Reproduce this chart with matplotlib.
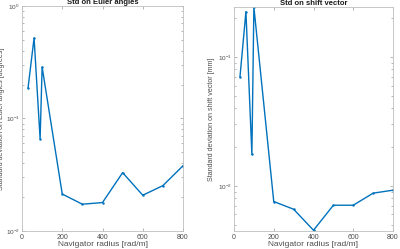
import matplotlib
matplotlib.use("Agg")
import matplotlib.pyplot as plt
from matplotlib.ticker import LogLocator, NullFormatter

radius = [30, 60, 90, 100, 200, 300, 400, 500, 600, 700, 800]
euler_std = [0.187, 0.52, 0.0657, 0.287, 0.0213, 0.0173, 0.0179, 0.033, 0.0208, 0.0253, 0.038]
shift_std = [0.0699, 0.2244, 0.0175, 0.244, 0.00755, 0.00658, 0.00452, 0.00707, 0.00707, 0.00877, 0.00925]
xticks = [0, 200, 400, 600, 800]

plt.rcParams['font.family'] = ['Liberation Sans', 'DejaVu Sans']
plt.rcParams['mathtext.fontset'] = 'custom'
plt.rcParams['mathtext.rm'] = 'Liberation Sans'
fig = plt.figure(figsize=(4, 2.49), dpi=100)
W, H = 400, 249
ax1 = fig.add_axes([22 / W, 1 - 231 / H, 161 / W, 225 / H])
ax2 = fig.add_axes([234 / W, 1 - 231 / H, 159 / W, 224 / H])

line_color = '#0072BD'
axc = '#4d4d4d'
for ax, y, title, ylabel, ylim, lx in [
    (ax1, euler_std, 'Std on Euler angles', 'Standard deviation on Euler angles [degrees]', (1e-2, 1), 5.5),
    (ax2, shift_std, 'Std on shift vector', 'Standard deviation on shift vector [mm]', (0.00446, 0.244), 215),
]:
    ax.plot(radius, y, color=line_color, lw=1.0, marker='.', ms=1.5)
    ax.set_yscale('log')
    ax.set_xlim(0, 800)
    ax.set_ylim(*ylim)
    ax.set_xticks(xticks)
    ax.yaxis.set_major_locator(LogLocator(base=10, numticks=10))
    ax.yaxis.set_minor_locator(LogLocator(base=10, subs=range(2, 10), numticks=20))
    ax.yaxis.set_minor_formatter(NullFormatter())
    ax.tick_params(which='both', direction='in', top=True, right=True, colors='#999999',
                   labelsize=5, width=0.5, labelcolor=axc, pad=2)
    ax.tick_params(axis='y', labelsize=4.6, pad=1.5)
    ax.tick_params(which='major', length=2.5)
    ax.tick_params(which='minor', length=1.5)
    for s in ax.spines.values():
        s.set_linewidth(0.6)
        s.set_color('#bfbfbf')
    ax.set_title(title, fontsize=5.5, fontweight='bold', pad=0.3, color='#1a1a1a')
    ax.set_xlabel('Navigator radius [rad/m]', fontsize=6, labelpad=0.5, color=axc)
    ax.set_ylabel(ylabel, fontsize=5.1, color=axc)
    pos = ax.get_position()
    ax.yaxis.set_label_coords((lx - pos.x0 * W) / (pos.width * W), 0.5)

fig.savefig('out.png', dpi=100)
